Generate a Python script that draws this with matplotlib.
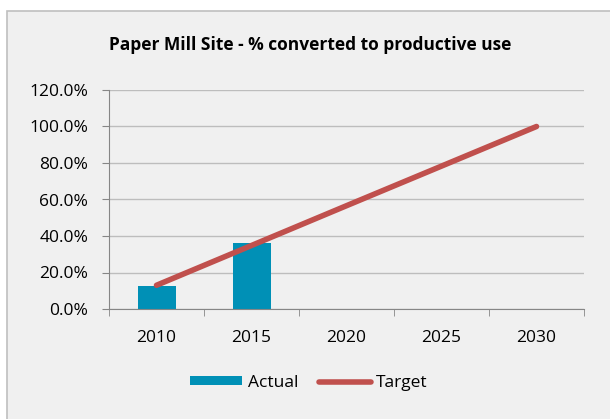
import matplotlib.pyplot as plt
from matplotlib.patches import Rectangle
from matplotlib.ticker import FuncFormatter, FixedLocator
import numpy as np

years = ["2010", "2015", "2020", "2025", "2030"]
actual = [12.8, 36.0]
target = [13.0, 34.8, 56.6, 78.3, 100.0]

plt.rcParams['font.family'] = ['Open Sans', 'DejaVu Sans']

fig = plt.figure(figsize=(6.1, 4.19), dpi=100)
fig.patch.set_facecolor("white")

# chart frame
frame = Rectangle((7 / 610, -0.05), 1.1, 1 - 11 / 419 + 0.05, transform=fig.transFigure,
                  facecolor="#f0f0f0", edgecolor="#bfbfbf", linewidth=1.2, zorder=-5)
fig.patches.append(frame)

ax = fig.add_axes([109 / 610, 1 - 309 / 419, (584 - 109) / 610, (309 - 90) / 419])
ax.set_zorder(2)
ax.set_facecolor("none")

x = np.arange(len(years))
bars = ax.bar(x[:len(actual)], actual, width=0.4, color="#0090b6", label="Actual", zorder=2)
line, = ax.plot(x, target, color="#c0504d", linewidth=4, solid_capstyle="round",
                label="Target", zorder=3)

ax.set_xlim(-0.5, len(years) - 0.5)
ax.set_ylim(0, 120)
ax.set_yticks(np.arange(0, 121, 20))
ax.yaxis.set_major_formatter(FuncFormatter(lambda v, p: f"{v:.1f}%"))
ax.grid(axis="y", color="#bdbdbd", linewidth=1)
ax.set_axisbelow(True)

ax.set_xticks(x)
ax.set_xticklabels(years)
ax.xaxis.set_minor_locator(FixedLocator(np.arange(-0.5, len(years), 1)))
ax.tick_params(axis="x", which="major", length=0, pad=15, labelsize=12.5)
ax.tick_params(axis="x", which="minor", length=5, color="#868686", direction="out")
ax.tick_params(axis="y", length=5, color="#868686", labelsize=12.5, pad=10)

for s in ["top", "right"]:
    ax.spines[s].set_visible(False)
for s in ["left", "bottom"]:
    ax.spines[s].set_color("#868686")

fig.text(310 / 610, 1 - 45 / 419, "Paper Mill Site - % converted to productive use",
         ha="center", va="center", fontsize=12.5, fontweight="bold")

fig.legend([bars, line], ["Actual", "Target"], loc="center",
           bbox_to_anchor=(309 / 610, 1 - 383 / 419), ncol=2, frameon=False,
           fontsize=12.5, handlelength=3.0, handletextpad=0.3, columnspacing=1.2,
           handleheight=0.45)

fig.savefig("out.png", dpi=100)
